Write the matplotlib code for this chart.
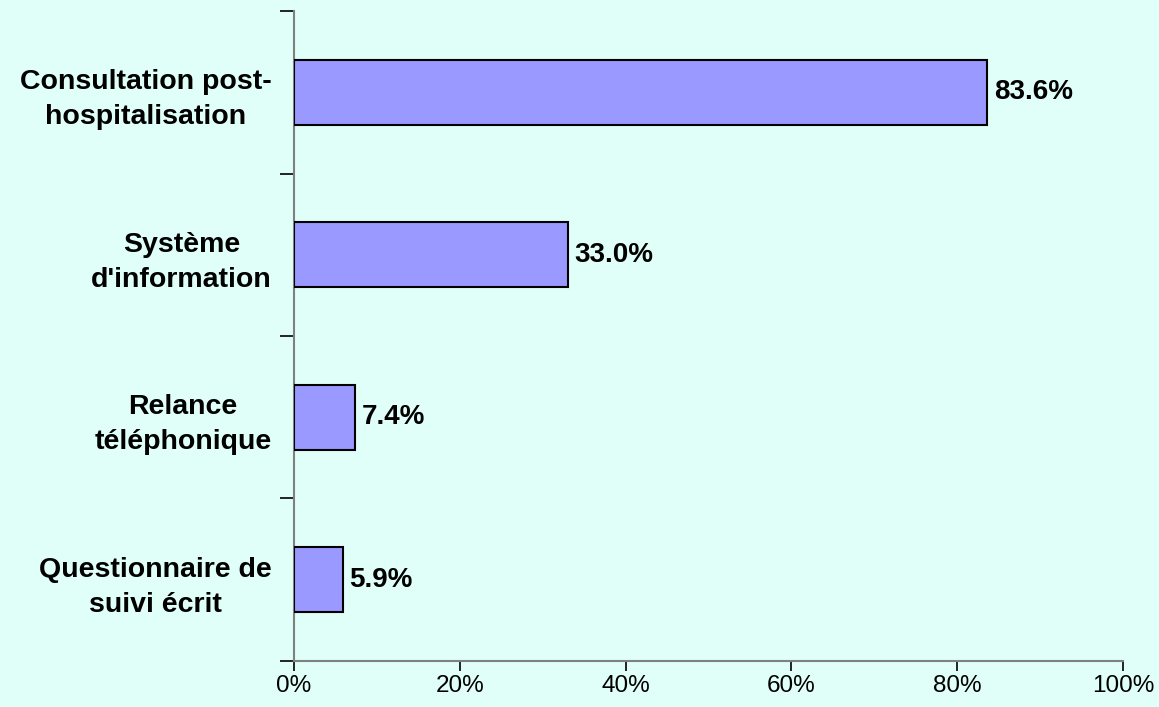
import matplotlib.pyplot as plt
from matplotlib.ticker import FixedLocator, PercentFormatter

# data
categories = ["Consultation post-\nhospitalisation",
              "Système\nd'information",
              "Relance\ntéléphonique",
              "Questionnaire de\nsuivi écrit"]
values = [83.6, 33.0, 7.4, 5.9]
x_ticks = [0, 20, 40, 60, 80, 100]

bg = "#E0FFF8"
bar_color = "#9999FF"
spine_color = "#808080"

plt.rcParams['font.family'] = ['Liberation Sans', 'DejaVu Sans']

fig = plt.figure(figsize=(11.59, 7.07), dpi=100, facecolor=bg)
ax = fig.add_axes([0.2537, 0.0651, 0.9690 - 0.2537, 0.9844 - 0.0651])
ax.set_facecolor(bg)

pos = list(range(len(categories)))
bars = ax.barh(pos, values, height=0.4, color=bar_color,
               edgecolor="black", linewidth=1.5, zorder=3)

for bar, v in zip(bars, values):
    ax.text(bar.get_width() + 0.8, bar.get_y() + bar.get_height() / 2,
            f"{v:.1f}%", va="center", ha="left",
            fontsize=20, fontweight="bold", zorder=4)

ax.set_ylim(len(categories) - 0.5, -0.5)
ax.set_xlim(0, 100)

ax.set_yticks(pos)
ax.set_yticklabels(categories, fontsize=20.5, fontweight="bold",
                   multialignment="center", linespacing=1.45)
ax.tick_params(axis="y", which="major", length=0, pad=16)
ax.yaxis.set_minor_locator(FixedLocator([p - 0.5 for p in range(len(categories) + 1)]))
ax.tick_params(axis="y", which="minor", length=10, width=1.2, color="black")

ax.set_xticks(x_ticks)
ax.xaxis.set_major_formatter(PercentFormatter(decimals=0))
ax.tick_params(axis="x", length=7, width=1.2, color="black",
               labelsize=17.5, pad=3)

for side in ["top", "right"]:
    ax.spines[side].set_visible(False)
for side in ["left", "bottom"]:
    ax.spines[side].set_color(spine_color)
    ax.spines[side].set_linewidth(1.5)

fig.savefig("out.png", dpi=100, facecolor=bg)
